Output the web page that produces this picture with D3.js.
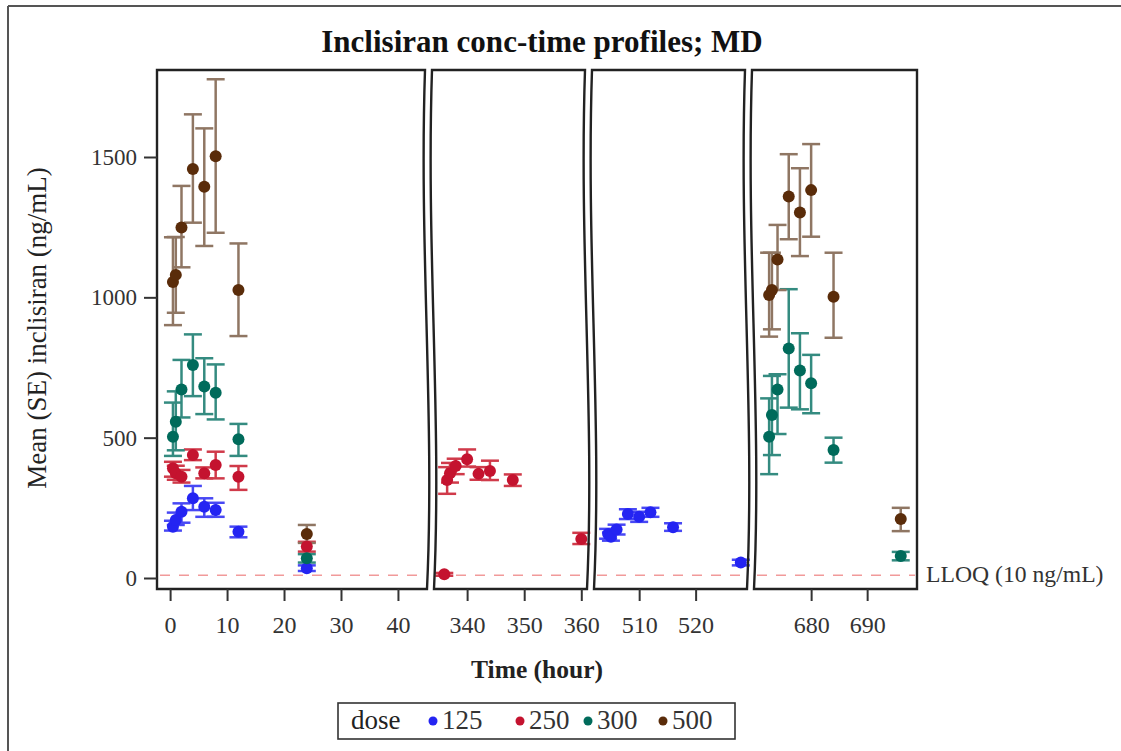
<!DOCTYPE html>
<html><head><meta charset="utf-8">
<script src="https://cdn.jsdelivr.net/npm/d3@7"></script>
<style>body{margin:0;background:#fff}svg{display:block}text{font-family:"Liberation Serif","Times New Roman",serif;fill:#333}</style>
</head><body><svg id="c" width="1121" height="751"></svg>
<script>
// ---- data ----
const doses = ["125", "250", "300", "500"];
const doseColors = ["#2424f2", "#c4132f", "#006b5b", "#5a2c0a"];
const barColors = ["#4848f4", "#d03a4a", "#348b80", "#8f7663"];

const times125 = [0.5, 1, 2, 4, 6, 8, 12, 24, 504.5, 505, 506, 508, 510, 512, 516, 528];
const mean125 = [183, 207, 236, 284, 254, 242, 165, 35, 157, 147, 173, 228, 218, 234, 181, 55];
const lo125 = [169, 189, 197, 242, 218, 218, 145, 25, 140, 133, 155, 210, 200, 218, 168, 45];
const hi125 = [204, 233, 266, 328, 284, 268, 183, 45, 175, 162, 190, 245, 236, 250, 195, 65];

const times250 = [0.5, 1, 2, 4, 6, 8, 12, 24, 336, 336.5, 337, 338, 340, 342, 344, 348, 360];
const mean250 = [391, 373, 361, 438, 373, 403, 361, 112, 13, 349, 373, 399, 423, 371, 381, 349, 139];
const lo250 = [361, 350, 340, 420, 355, 355, 314, 94, 8, 300, 340, 370, 397, 350, 349, 328, 121];
const hi250 = [414, 400, 385, 458, 394, 450, 399, 129, 18, 395, 410, 425, 458, 395, 418, 369, 161];

const times300 = [0.5, 1, 2, 4, 6, 8, 12, 24, 672.5, 673, 674, 676, 678, 680, 684, 696];
const mean300 = [503, 557, 672, 759, 682, 660, 494, 70, 503, 581, 672, 818, 739, 694, 456, 78];
const lo300 = [435, 455, 572, 648, 584, 565, 435, 55, 370, 438, 513, 607, 601, 587, 411, 63];
const hi300 = [625, 665, 777, 868, 783, 761, 549, 85, 640, 720, 726, 1029, 872, 795, 500, 93];

const times500 = [0.5, 1, 2, 4, 6, 8, 12, 24, 672.5, 673, 674, 676, 678, 680, 684, 696];
const mean500 = [1055, 1080, 1249, 1457, 1394, 1503, 1026, 157, 1008, 1026, 1135, 1359, 1302, 1382, 1002, 210];
const lo500 = [901, 945, 1107, 1266, 1183, 1230, 862, 125, 860, 886, 1026, 1207, 1147, 1216, 856, 167];
const hi500 = [1214, 1215, 1397, 1652, 1602, 1777, 1192, 189, 1159, 1159, 1258, 1510, 1460, 1546, 1159, 250];

const panelDomains = [[-2.3, 45.1], [334.2, 361], [502, 529.1], [669.8, 698.9]];
const panelTicks = [[0, 10, 20, 30, 40], [340, 350, 360], [510, 520], [680, 690]];
const yTicks = [0, 500, 1000, 1500];
const lloq = 10;
const titleText = "Inclisiran conc-time profiles; MD";
const xLabel = "Time (hour)";
const yLabel = "Mean (SE) inclisiran (ng/mL)";
const lloqLabel = "LLOQ (10 ng/mL)";

// ---- layout ----
const panelRanges = [[157, 427], [434, 587], [594, 747], [754, 917]];
const yTop = 70, yBot = 589;
const svg = d3.select("#c");

const series = [
  {t: times125, m: mean125, lo: lo125, hi: hi125},
  {t: times250, m: mean250, lo: lo250, hi: hi250},
  {t: times300, m: mean300, lo: lo300, hi: hi300},
  {t: times500, m: mean500, lo: lo500, hi: hi500}
];

const y = d3.scaleLinear().domain([0, 1500]).range([578, 157]);
const xs = panelDomains.map((d, i) => d3.scaleLinear().domain(d).range(panelRanges[i]));

// outer frame (top and left edges visible)
svg.append("line").attr("x1", 8).attr("x2", 1121).attr("y1", 6).attr("y2", 6).attr("stroke", "#555").attr("stroke-width", 2);
svg.append("line").attr("x1", 8).attr("x2", 8).attr("y1", 6).attr("y2", 751).attr("stroke", "#555").attr("stroke-width", 2);

function stext(x, yy, txt, size, opts = {}) {
  const t = svg.append("text")
    .attr("transform", `translate(${x},${yy})${opts.rot ? " rotate(" + opts.rot + ")" : ""} scale(${opts.sx || 1},1)`)
    .attr("text-anchor", opts.anchor || "middle")
    .attr("font-size", size)
    .attr("font-weight", opts.bold ? "bold" : "normal")
    .text(txt);
  if (opts.fill) t.style("fill", opts.fill);
  return t;
}
// title
stext(542, 52, titleText, 32, {bold: true, sx: 0.97, fill: "#111"});

// LLOQ dashed lines
panelRanges.forEach((r) => {
  svg.append("line").attr("x1", r[0] + 3).attr("x2", r[1] - 2)
    .attr("y1", y(lloq)).attr("y2", y(lloq))
    .attr("stroke", "#f19a9a").attr("stroke-width", 1.6).attr("stroke-dasharray", "10,9");
});

// error bars and markers
const cap = 9;
function panelOf(t) { return panelDomains.findIndex(d => t >= d[0] && t <= d[1]); }
series.forEach((s, gi) => {
  const g = svg.append("g");
  s.t.forEach((t, k) => {
    const x = xs[panelOf(t)](t);
    g.append("line").attr("x1", x).attr("x2", x).attr("y1", y(s.lo[k])).attr("y2", y(s.hi[k]))
      .attr("stroke", barColors[gi]).attr("stroke-width", 2.5);
    [s.lo[k], s.hi[k]].forEach(v => g.append("line").attr("x1", x - cap).attr("x2", x + cap)
      .attr("y1", y(v)).attr("y2", y(v)).attr("stroke", barColors[gi]).attr("stroke-width", 2.5));
  });
});
series.forEach((s, gi) => {
  s.t.forEach((t, k) => {
    svg.append("circle").attr("cx", xs[panelOf(t)](t)).attr("cy", y(s.m[k])).attr("r", 6).attr("fill", doseColors[gi]);
  });
});

// panel borders with broken-axis wavy edges
function wave(xb, down) {
  const p0 = [xb - 2, yTop], c1 = [xb - 8, yTop + 180], c2 = [xb + 8, yBot - 170], p1 = [xb, yBot];
  return down ? `L${p0} C${c1} ${c2} ${p1}` : `L${p1} C${c2} ${c1} ${p0}`;
}
panelRanges.forEach((r, i) => {
  const last = i === panelRanges.length - 1, first = i === 0;
  let d = `M${first ? r[0] : r[0] - 2},${yTop} L${last ? r[1] : r[1] - 2},${yTop} `;
  d += last ? `L${r[1]},${yBot} ` : wave(r[1], true) + " ";
  d += `L${r[0]},${yBot} `;
  d += first ? `L${r[0]},${yTop} Z` : wave(r[0], false) + " Z";
  svg.append("path").attr("d", d).attr("fill", "none").attr("stroke", "#222").attr("stroke-width", 2.4);
});

// x axes
panelRanges.forEach((r, i) => {
  const ax = d3.axisBottom(xs[i]).tickValues(panelTicks[i]).tickSize(12).tickPadding(15).tickSizeOuter(0).tickFormat(d3.format("d"));
  const g = svg.append("g").attr("transform", `translate(0,${yBot})`).call(ax);
  g.select(".domain").remove();
  g.selectAll(".tick line").attr("stroke", "#333").attr("stroke-width", 2);
  g.selectAll(".tick text").attr("font-size", 24).attr("font-family", "Liberation Serif").style("fill", "#333");
});
// y axis
{
  const ax = d3.axisLeft(y).tickValues(yTicks).tickSize(13).tickPadding(7).tickSizeOuter(0).tickFormat(d3.format("d"));
  const g = svg.append("g").attr("transform", `translate(157,0)`).call(ax);
  g.select(".domain").remove();
  g.selectAll(".tick line").attr("stroke", "#333").attr("stroke-width", 2);
  g.selectAll(".tick text").attr("font-size", 23).attr("font-family", "Liberation Serif").style("fill", "#333");
}

// axis labels
stext(537, 678, xLabel, 25.5, {bold: true, fill: "#222"});
stext(46, 328, yLabel, 27, {rot: -90, fill: "#222"});
stext(926, y(lloq) + 7, lloqLabel, 23, {anchor: "start", sx: 1.03, fill: "#333"});

// legend
svg.append("rect").attr("x", 338).attr("y", 703).attr("width", 397).attr("height", 36)
  .attr("fill", "none").attr("stroke", "#333").attr("stroke-width", 1.6);
stext(351, 729, "dose", 27, {anchor: "start", fill: "#222"});
const legX = [433, 520, 588, 663];
doses.forEach((d, i) => {
  svg.append("circle").attr("cx", legX[i]).attr("cy", 721).attr("r", 4.5).attr("fill", doseColors[i]);
  stext(legX[i] + 9, 729, d, 27, {anchor: "start", fill: "#333"});
});
</script></body></html>
